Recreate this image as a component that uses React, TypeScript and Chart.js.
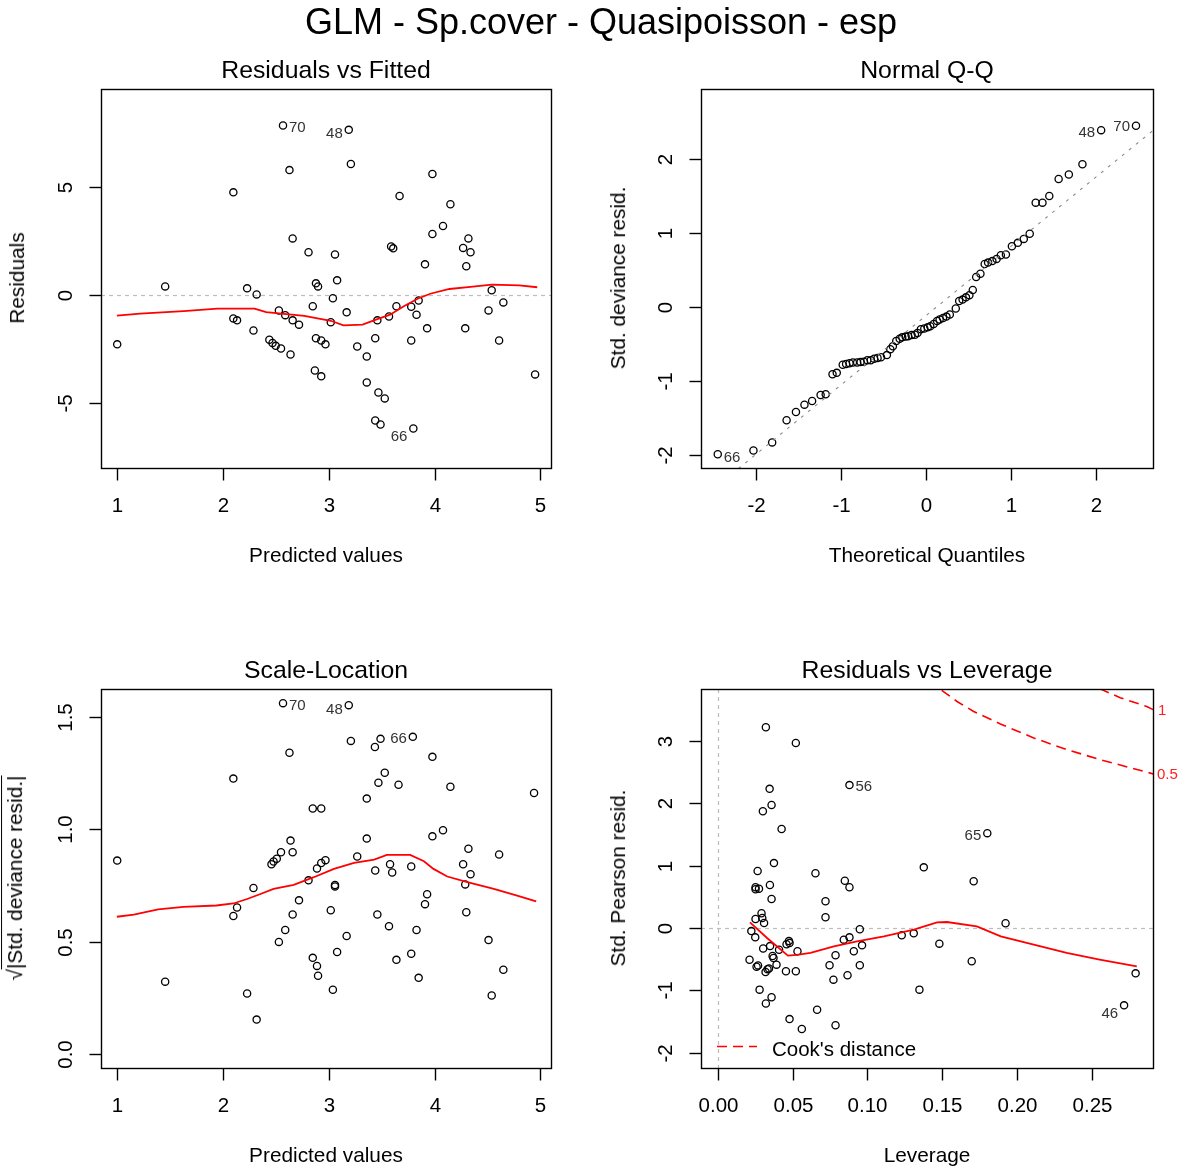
import React, { useEffect, useRef } from "react";
import { Chart, registerables } from "chart.js";

Chart.register(...registerables);

const FONT = '"Liberation Sans", Arial, Helvetica, sans-serif';

// ---------- Panel 1: Residuals vs Fitted ----------
const rvfFitted = [2.569, 3.19, 3.21, 2.63, 2.10, 3.98, 3.67, 4.15, 4.08, 3.98, 4.32, 2.66, 4.27, 4.34, 3.59, 3.61, 2.81, 3.06, 4.30, 3.91, 3.08, 2.88, 2.90, 1.456, 2.23, 2.32, 3.04, 4.54, 4.65, 2.85, 2.53, 2.59, 2.66, 2.72, 3.17, 3.02, 2.10, 2.135, 2.29, 3.64, 3.78, 3.85, 3.83, 3.46, 3.57, 3.93, 4.29, 4.51, 4.61, 3.78, 3.44, 3.27, 3.36, 1.003, 4.95, 2.44, 2.47, 2.50, 2.55, 2.64, 2.88, 2.93, 2.97, 2.87, 2.93, 3.36, 3.47, 3.53, 3.44, 3.49, 3.80];
const rvfResid = [7.84, 7.64, 6.06, 5.78, 4.75, 5.60, 4.58, 4.20, 3.19, 2.82, 2.62, 2.62, 2.18, 1.98, 2.25, 2.16, 1.98, 1.88, 1.33, 1.42, 0.68, 0.54, 0.40, 0.40, 0.31, 0.03, -0.15, 0.22, -0.34, -0.52, -0.71, -0.93, -1.17, -1.37, -0.80, -1.26, -1.08, -1.17, -1.64, -0.52, -0.54, -0.25, -0.91, -1.17, -0.99, -1.54, -1.54, -0.71, -2.10, -2.10, -2.0, -2.38, -2.84, -2.28, -3.67, -2.07, -2.22, -2.35, -2.47, -2.75, -2.0, -2.10, -2.28, -3.49, -3.76, -4.04, -4.51, -4.78, -5.80, -5.99, -6.17];
const rvfSmoothX = [1.00, 1.22, 1.63, 1.95, 2.30, 2.41, 2.77, 3.02, 3.14, 3.32, 3.46, 3.58, 3.71, 3.84, 3.96, 4.14, 4.34, 4.54, 4.80, 4.97];
const rvfSmoothY = [-0.95, -0.86, -0.74, -0.63, -0.63, -0.79, -0.96, -1.19, -1.40, -1.37, -1.11, -0.91, -0.52, -0.17, 0.06, 0.28, 0.38, 0.48, 0.45, 0.36];
const rvfXTicks = [1, 2, 3, 4, 5];
const rvfXTickLabels = ["1", "2", "3", "4", "5"];
const rvfYTicks = [-5, 0, 5];
const rvfYTickLabels = ["-5", "0", "5"];

// ---------- Panel 2: Normal Q-Q ----------
const qqTheoretical = [-2.45, -2.03, -1.81, -1.64, -1.53, -1.43, -1.34, -1.24, -1.18, -1.10, -1.05, -0.98, -0.94, -0.90, -0.86, -0.81, -0.77, -0.73, -0.69, -0.65, -0.61, -0.57, -0.53, -0.46, -0.42, -0.39, -0.35, -0.31, -0.28, -0.24, -0.21, -0.17, -0.13, -0.10, -0.06, -0.02, 0.02, 0.05, 0.09, 0.13, 0.16, 0.20, 0.24, 0.28, 0.35, 0.39, 0.43, 0.47, 0.51, 0.55, 0.59, 0.64, 0.69, 0.73, 0.78, 0.83, 0.88, 0.94, 1.01, 1.08, 1.15, 1.22, 1.29, 1.37, 1.45, 1.56, 1.68, 1.84, 2.06, 2.47];
const qqStdResid = [-1.99, -1.94, -1.83, -1.53, -1.42, -1.32, -1.27, -1.19, -1.18, -0.91, -0.89, -0.78, -0.77, -0.76, -0.75, -0.75, -0.745, -0.74, -0.72, -0.72, -0.70, -0.69, -0.68, -0.65, -0.57, -0.53, -0.46, -0.43, -0.41, -0.40, -0.395, -0.38, -0.375, -0.35, -0.30, -0.29, -0.275, -0.26, -0.23, -0.19, -0.17, -0.15, -0.13, -0.10, -0.02, 0.08, 0.10, 0.13, 0.16, 0.23, 0.405, 0.45, 0.58, 0.60, 0.62, 0.65, 0.70, 0.71, 0.82, 0.867, 0.92, 0.99, 1.41, 1.41, 1.50, 1.73, 1.79, 1.93, 2.39, 2.45];
const qqLineX = [-2.7, 2.75];
const qqLineY = [-2.646, 2.46];
const qqXTicks = [-2, -1, 0, 1, 2];
const qqXTickLabels = ["-2", "-1", "0", "1", "2"];
const qqYTicks = [-2, -1, 0, 1, 2];
const qqYTickLabels = ["-2", "-1", "0", "1", "2"];

// ---------- Panel 3: Scale-Location ----------
const slFitted = [2.569, 3.19, 3.795, 3.21, 3.437, 3.49, 2.63, 3.98, 3.53, 3.47, 3.66, 2.10, 4.15, 4.94, 3.36, 2.85, 2.93, 3.98, 4.08, 3.36, 2.64, 2.66, 4.32, 4.61, 2.55, 2.46, 2.48, 2.51, 3.27, 3.58, 3.60, 3.78, 3.44, 2.97, 2.93, 2.89, 4.27, 4.34, 4.29, 2.81, 3.06, 3.06, 2.29, 2.72, 2.135, 2.10, 2.66, 3.02, 3.46, 3.93, 3.91, 4.30, 3.57, 3.83, 2.59, 3.17, 2.53, 4.51, 3.08, 3.78, 2.85, 2.89, 2.90, 3.64, 3.85, 4.65, 3.04, 4.54, 1.456, 2.23, 2.32, 1.003];
const slSqrtResid = [1.562, 1.553, 1.412, 1.394, 1.367, 1.403, 1.341, 1.323, 1.252, 1.208, 1.199, 1.226, 1.190, 1.162, 1.137, 1.093, 1.093, 0.969, 0.996, 0.959, 0.950, 0.898, 0.914, 0.888, 0.898, 0.845, 0.857, 0.869, 0.879, 0.845, 0.808, 0.835, 0.817, 0.863, 0.850, 0.826, 0.845, 0.80, 0.755, 0.773, 0.752, 0.746, 0.739, 0.684, 0.652, 0.614, 0.621, 0.640, 0.621, 0.711, 0.667, 0.631, 0.569, 0.552, 0.552, 0.525, 0.499, 0.507, 0.454, 0.446, 0.428, 0.392, 0.348, 0.419, 0.339, 0.375, 0.286, 0.260, 0.322, 0.269, 0.153, 0.861];
const slSmoothX = [1.00, 1.16, 1.39, 1.63, 1.94, 2.10, 2.23, 2.35, 2.48, 2.67, 2.86, 3.05, 3.24, 3.43, 3.55, 3.77, 3.90, 3.99, 4.12, 4.31, 4.56, 4.78, 4.96];
const slSmoothY = [0.611, 0.62, 0.644, 0.655, 0.661, 0.67, 0.69, 0.711, 0.735, 0.753, 0.787, 0.824, 0.851, 0.865, 0.886, 0.886, 0.858, 0.824, 0.790, 0.765, 0.735, 0.705, 0.679];
const slYTicks = [0, 0.5, 1, 1.5];
const slYTickLabels = ["0.0", "0.5", "1.0", "1.5"];

// ---------- Panel 4: Residuals vs Leverage ----------
const rvlLeverage = [0.0322, 0.0522, 0.088, 0.0347, 0.036, 0.0302, 0.0427, 0.180, 0.0376, 0.0267, 0.0653, 0.1376, 0.1709, 0.0849, 0.088, 0.0253, 0.0276, 0.0253, 0.0349, 0.036, 0.072, 0.072, 0.0293, 0.0253, 0.0298, 0.031, 0.0949, 0.1922, 0.0225, 0.0251, 0.1229, 0.1309, 0.148, 0.0842, 0.088, 0.0964, 0.0909, 0.0787, 0.0747, 0.0949, 0.0867, 0.0773, 0.1696, 0.1347, 0.279, 0.2713, 0.0664, 0.048, 0.0562, 0.0787, 0.028, 0.036, 0.0322, 0.0476, 0.046, 0.048, 0.041, 0.035, 0.0304, 0.0533, 0.0367, 0.0373, 0.0393, 0.027, 0.026, 0.0213, 0.0343, 0.0333, 0.032, 0.0456, 0.0522];
const rvlPearson = [3.216, 2.965, 2.29, 2.23, 1.97, 1.87, 1.587, 1.52, 1.04, 0.913, 0.877, 0.972, 0.748, 0.758, 0.652, 0.652, 0.630, 0.62, 0.689, 0.465, 0.428, 0.171, 0.235, 0.144, 0.16, 0.08, -0.02, 0.075, -0.05, -0.15, -0.118, -0.086, -0.251, -0.187, -0.15, -0.278, -0.374, -0.438, -0.598, -0.598, -0.758, -0.828, -0.534, -0.988, -0.727, -1.24, -1.31, -1.46, -1.62, -1.56, -0.988, -1.11, -1.21, -0.21, -0.26, -0.24, -0.35, -0.29, -0.33, -0.374, -0.45, -0.48, -0.588, -0.60, -0.62, -0.508, -0.65, -0.66, -0.705, -0.694, -0.694];
const rvlSmoothX = [0.0216, 0.033, 0.0469, 0.053, 0.062, 0.0776, 0.093, 0.111, 0.131, 0.1464, 0.153, 0.173, 0.189, 0.211, 0.233, 0.255, 0.2798];
const rvlSmoothY = [0.091, -0.16, -0.443, -0.43, -0.40, -0.294, -0.214, -0.134, -0.027, 0.091, 0.096, 0.027, -0.134, -0.267, -0.40, -0.507, -0.614];
const cookHalfX = [0.14, 0.1475, 0.1598, 0.1709, 0.1887, 0.211, 0.233, 0.255, 0.2907];
const cookHalfY = [3.92, 3.846, 3.63, 3.47, 3.27, 3.045, 2.86, 2.70, 2.47];
const cookOneX = [0.245, 0.254, 0.2687, 0.2864, 0.2907];
const cookOneY = [3.93, 3.846, 3.69, 3.55, 3.50];
const rvlXTicks = [0, 0.05, 0.1, 0.15, 0.2, 0.25];
const rvlXTickLabels = ["0.00", "0.05", "0.10", "0.15", "0.20", "0.25"];
const rvlYTicks = [-2, -1, 0, 1, 2, 3];
const rvlYTickLabels = ["-2", "-1", "0", "1", "2", "3"];

// ---------- helpers ----------
type Box = { l: number; t: number; r: number; b: number };
type Region = { x: number; y: number; w: number; h: number };
type PtLabel = { x: number; y: number; text: string; side: "left" | "right"; dy: number };

interface PanelSpec {
  region: Region;
  box: Box;
  xMin: number; xMax: number; yMin: number; yMax: number;
  xTicks: number[]; xTickLabels: string[];
  yTicks: number[]; yTickLabels: string[];
  datasets: any[];
  hLines?: number[];
  vLines?: number[];
  labels?: PtLabel[];
  extra?: (chart: any) => void;
}

const pts = (xs: number[], ys: number[]) => xs.map((x, i) => ({ x, y: ys[i] }));

const pointsDataset = (xs: number[], ys: number[]) => ({
  data: pts(xs, ys),
  showLine: false,
  pointStyle: "circle",
  pointRadius: 3.6,
  pointBorderWidth: 1.3,
  pointBackgroundColor: "rgba(0,0,0,0)",
  pointBorderColor: "#000",
  clip: 0,
  order: 2,
});

const lineDataset = (xs: number[], ys: number[], color: string, width: number, dash: number[] = []) => ({
  data: pts(xs, ys),
  showLine: true,
  pointRadius: 0,
  borderColor: color,
  backgroundColor: color,
  borderWidth: width,
  borderDash: dash,
  tension: 0,
  fill: false,
  clip: 0,
  order: 1,
});

const TICK_FONT = `20.5px ${FONT}`;
const SMALL_FONT = `15px ${FONT}`;

function makePlugin(spec: PanelSpec) {
  return {
    id: "rBase",
    beforeDatasetsDraw(chart: any) {
      const { ctx, chartArea: a, scales } = chart;
      ctx.save();
      ctx.beginPath();
      ctx.rect(a.left, a.top, a.right - a.left, a.bottom - a.top);
      ctx.clip();
      ctx.strokeStyle = "#bdbdbd";
      ctx.lineWidth = 1.2;
      ctx.setLineDash([4, 4]);
      (spec.hLines || []).forEach((v) => {
        const py = Math.round(scales.y.getPixelForValue(v)) + 0.5;
        ctx.beginPath();
        ctx.moveTo(a.left, py);
        ctx.lineTo(a.right, py);
        ctx.stroke();
      });
      (spec.vLines || []).forEach((v) => {
        const px = Math.round(scales.x.getPixelForValue(v)) + 0.5;
        ctx.beginPath();
        ctx.moveTo(px, a.top);
        ctx.lineTo(px, a.bottom);
        ctx.stroke();
      });
      ctx.restore();
    },
    afterDraw(chart: any) {
      const { ctx, chartArea: a, scales } = chart;
      ctx.save();
      ctx.setLineDash([]);
      ctx.strokeStyle = "#000";
      ctx.lineWidth = 1.4;
      ctx.strokeRect(a.left + 0.5, a.top + 0.5, a.right - a.left, a.bottom - a.top);

      ctx.fillStyle = "#000";
      ctx.font = TICK_FONT;
      ctx.lineWidth = 1.4;
      // x ticks
      ctx.textAlign = "center";
      ctx.textBaseline = "alphabetic";
      spec.xTicks.forEach((v, i) => {
        const px = Math.round(scales.x.getPixelForValue(v)) + 0.5;
        ctx.beginPath();
        ctx.moveTo(px, a.bottom + 0.5);
        ctx.lineTo(px, a.bottom + 12.5);
        ctx.stroke();
        ctx.fillText(spec.xTickLabels[i], px, a.bottom + 37 + 7.3);
      });
      // y ticks (rotated labels, R style)
      spec.yTicks.forEach((v, i) => {
        const py = Math.round(scales.y.getPixelForValue(v)) + 0.5;
        ctx.beginPath();
        ctx.moveTo(a.left + 0.5 - 12, py);
        ctx.lineTo(a.left + 0.5, py);
        ctx.stroke();
        ctx.save();
        ctx.translate(a.left - 36, py);
        ctx.rotate(-Math.PI / 2);
        ctx.fillText(spec.yTickLabels[i], 0, 7.3);
        ctx.restore();
      });
      // point id labels
      ctx.font = SMALL_FONT;
      ctx.fillStyle = "#333";
      (spec.labels || []).forEach((l) => {
        const px = scales.x.getPixelForValue(l.x);
        const py = scales.y.getPixelForValue(l.y);
        ctx.textAlign = l.side === "right" ? "left" : "right";
        ctx.fillText(l.text, l.side === "right" ? px + 6 : px - 6, py + l.dy + 5.4);
      });
      if (spec.extra) spec.extra(chart);
      ctx.restore();
    },
  };
}

function Panel({ spec }: { spec: PanelSpec }) {
  const ref = useRef<HTMLCanvasElement>(null);
  useEffect(() => {
    const canvas = ref.current!;
    const { region, box } = spec;
    const chart = new Chart(canvas, {
      type: "scatter",
      data: { datasets: spec.datasets },
      options: {
        animation: false,
        responsive: false,
        maintainAspectRatio: false,
        devicePixelRatio: 1,
        events: [],
        layout: {
          padding: {
            left: box.l - region.x,
            top: box.t - region.y,
            right: region.x + region.w - box.r,
            bottom: region.y + region.h - box.b,
          },
        },
        plugins: { legend: { display: false }, tooltip: { enabled: false }, title: { display: false } },
        scales: {
          x: { type: "linear", min: spec.xMin, max: spec.xMax, display: false },
          y: { type: "linear", min: spec.yMin, max: spec.yMax, display: false },
        },
      } as any,
      plugins: [makePlugin(spec) as any],
    });
    return () => chart.destroy();
  }, []);
  return (
    <canvas
      ref={ref}
      width={spec.region.w}
      height={spec.region.h}
      style={{ position: "absolute", left: spec.region.x, top: spec.region.y, width: spec.region.w, height: spec.region.h }}
    />
  );
}

// ---------- panel specs ----------
const BOX1: Box = { l: 101, t: 89, r: 551, b: 468 };
const BOX2: Box = { l: 701, t: 89, r: 1153, b: 468 };
const BOX3: Box = { l: 101, t: 689, r: 551, b: 1068 };
const BOX4: Box = { l: 701, t: 689, r: 1153, b: 1068 };

const spec1: PanelSpec = {
  region: { x: 0, y: 40, w: 590, h: 560 },
  box: BOX1,
  xMin: 0.85, xMax: 5.1, yMin: -8.0, yMax: 9.53,
  xTicks: rvfXTicks, xTickLabels: rvfXTickLabels,
  yTicks: rvfYTicks, yTickLabels: rvfYTickLabels,
  hLines: [0],
  datasets: [pointsDataset(rvfFitted, rvfResid), lineDataset(rvfSmoothX, rvfSmoothY, "#ff0000", 1.8)],
  labels: [
    { x: rvfFitted[0], y: rvfResid[0], text: "70", side: "right", dy: 1 },
    { x: rvfFitted[1], y: rvfResid[1], text: "48", side: "left", dy: 3 },
    { x: rvfFitted[70], y: rvfResid[70], text: "66", side: "left", dy: 7 },
  ],
};

const spec2: PanelSpec = {
  region: { x: 590, y: 40, w: 589, h: 560 },
  box: BOX2,
  xMin: -2.647, xMax: 2.67, yMin: -2.176, yMax: 2.946,
  xTicks: qqXTicks, xTickLabels: qqXTickLabels,
  yTicks: qqYTicks, yTickLabels: qqYTickLabels,
  datasets: [pointsDataset(qqTheoretical, qqStdResid), lineDataset(qqLineX, qqLineY, "#8a8a8a", 1.1, [3, 6])],
  labels: [
    { x: qqTheoretical[0], y: qqStdResid[0], text: "66", side: "right", dy: 2 },
    { x: qqTheoretical[68], y: qqStdResid[68], text: "48", side: "left", dy: 1 },
    { x: qqTheoretical[69], y: qqStdResid[69], text: "70", side: "left", dy: 0 },
  ],
};

const spec3: PanelSpec = {
  region: { x: 0, y: 600, w: 590, h: 567 },
  box: BOX3,
  xMin: 0.85, xMax: 5.1, yMin: -0.0625, yMax: 1.625,
  xTicks: rvfXTicks, xTickLabels: rvfXTickLabels,
  yTicks: slYTicks, yTickLabels: slYTickLabels,
  datasets: [pointsDataset(slFitted, slSqrtResid), lineDataset(slSmoothX, slSmoothY, "#ff0000", 1.8)],
  labels: [
    { x: slFitted[0], y: slSqrtResid[0], text: "70", side: "right", dy: 1 },
    { x: slFitted[1], y: slSqrtResid[1], text: "48", side: "left", dy: 3 },
    { x: slFitted[2], y: slSqrtResid[2], text: "66", side: "left", dy: 1 },
  ],
};

const spec4: PanelSpec = {
  region: { x: 590, y: 600, w: 589, h: 567 },
  box: BOX4,
  xMin: -0.0111, xMax: 0.2906, yMin: -2.244, yMax: 3.83,
  xTicks: rvlXTicks, xTickLabels: rvlXTickLabels,
  yTicks: rvlYTicks, yTickLabels: rvlYTickLabels,
  hLines: [0],
  vLines: [0],
  datasets: [
    pointsDataset(rvlLeverage, rvlPearson),
    lineDataset(rvlSmoothX, rvlSmoothY, "#ff0000", 1.8),
    lineDataset(cookHalfX, cookHalfY, "#ff0000", 1.6, [10, 6]),
    lineDataset(cookOneX, cookOneY, "#ff0000", 1.6, [10, 6]),
  ],
  labels: [
    { x: rvlLeverage[2], y: rvlPearson[2], text: "56", side: "right", dy: 1 },
    { x: rvlLeverage[7], y: rvlPearson[7], text: "65", side: "left", dy: 1 },
    { x: rvlLeverage[45], y: rvlPearson[45], text: "46", side: "left", dy: 7 },
  ],
  extra: (chart: any) => {
    const { ctx, chartArea: a, scales } = chart;
    ctx.save();
    // Cook's distance contour levels
    ctx.font = SMALL_FONT;
    ctx.fillStyle = "#ff2020";
    ctx.textAlign = "left";
    const yOne = scales.y.getPixelForValue(cookOneY[cookOneY.length - 1]);
    const yHalf = scales.y.getPixelForValue(cookHalfY[cookHalfY.length - 1]);
    ctx.fillText("1", a.right + 5, yOne + 5.4);
    ctx.fillText("0.5", a.right + 4, yHalf + 5.4);
    // legend
    ctx.strokeStyle = "#ff0000";
    ctx.lineWidth = 1.6;
    ctx.setLineDash([10, 6]);
    const ly = a.bottom - 21.5;
    ctx.beginPath();
    ctx.moveTo(a.left + 16, ly);
    ctx.lineTo(a.left + 56, ly);
    ctx.stroke();
    ctx.setLineDash([]);
    ctx.fillStyle = "#000";
    ctx.font = TICK_FONT;
    ctx.fillText("Cook's distance", a.left + 71, a.bottom - 19 + 7.3);
    ctx.restore();
  },
};

function Label({ x, y, size, children, rotate }: { x: number; y: number; size: number; children: any; rotate?: boolean }) {
  return (
    <div
      style={{
        position: "absolute",
        left: x,
        top: y,
        transform: `translate(-50%, -50%)${rotate ? " rotate(-90deg)" : ""}`,
        fontFamily: FONT,
        fontSize: size,
        lineHeight: 1.15,
        whiteSpace: "nowrap",
        color: "#000",
      }}
    >
      {children}
    </div>
  );
}

export default function App() {
  const T = 24.8;
  const A = 20.8;
  return (
    <div style={{ position: "absolute", left: 0, top: 0, width: 1179, height: 1167, background: "#fff", overflow: "hidden" }}>
      <Panel spec={spec1} />
      <Panel spec={spec2} />
      <Panel spec={spec3} />
      <Panel spec={spec4} />
      <Label x={601} y={22} size={36}>GLM - Sp.cover - Quasipoisson - esp</Label>

      <Label x={326} y={70} size={T}>Residuals vs Fitted</Label>
      <Label x={927} y={70} size={T}>Normal Q-Q</Label>
      <Label x={326} y={670} size={T}>Scale-Location</Label>
      <Label x={927} y={670} size={T}>Residuals vs Leverage</Label>

      <Label x={326} y={555} size={A}>Predicted values</Label>
      <Label x={927} y={555} size={A}>Theoretical Quantiles</Label>
      <Label x={326} y={1155} size={A}>Predicted values</Label>
      <Label x={927} y={1155} size={A}>Leverage</Label>

      <Label x={17} y={278} size={A} rotate>Residuals</Label>
      <Label x={618} y={278} size={A} rotate>Std. deviance resid.</Label>
      <Label x={15} y={878} size={A} rotate>
        <span>
          √<span style={{ borderTop: "1.3px solid #000", paddingTop: 1 }}>|Std. deviance resid.|</span>
        </span>
      </Label>
      <Label x={618} y={878} size={A} rotate>Std. Pearson resid.</Label>
    </div>
  );
}
